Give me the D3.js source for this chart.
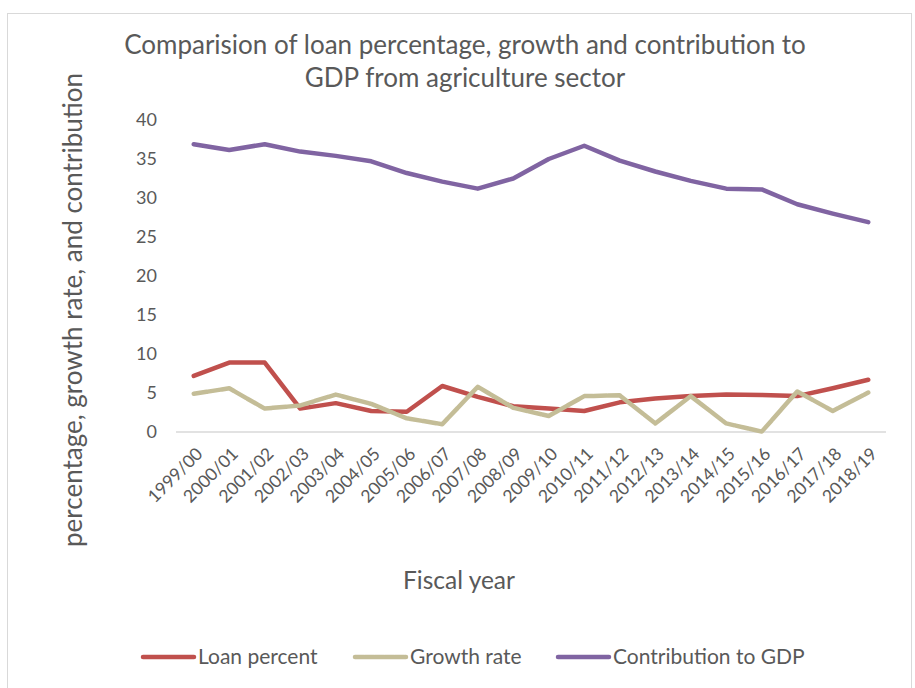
<!DOCTYPE html>
<html><head><meta charset="utf-8">
<script src="https://cdn.jsdelivr.net/npm/d3@7"></script>
<style>body{margin:0;background:#fff}svg{display:block}text{font-family:Lato,"Open Sans",sans-serif;fill:#595959}</style>
</head><body><svg id="c" width="915" height="688"></svg>
<script>
const years = ["1999/00","2000/01","2001/02","2002/03","2003/04","2004/05","2005/06","2006/07","2007/08","2008/09","2009/10","2010/11","2011/12","2012/13","2013/14","2014/15","2015/16","2016/17","2017/18","2018/19"];
const loanPercent = [7.2,8.9,8.9,3.0,3.7,2.7,2.6,5.9,4.5,3.3,3.0,2.7,3.8,4.3,4.6,4.8,4.75,4.6,5.6,6.7];
const growthRate = [4.9,5.6,3.0,3.4,4.8,3.6,1.75,1.0,5.8,3.1,2.05,4.6,4.7,1.1,4.6,1.1,0.05,5.2,2.7,5.05];
const contributionGDP = [36.9,36.15,36.9,35.95,35.4,34.7,33.2,32.1,31.2,32.5,35.0,36.7,34.8,33.4,32.2,31.2,31.1,29.2,28.0,26.9];
const yTicks = [0,5,10,15,20,25,30,35,40];
const seriesNames = ["Loan percent","Growth rate","Contribution to GDP"];

const svg = d3.select("#c");
svg.append("rect").attr("x",7.5).attr("y",13.5).attr("width",904).attr("height",690).attr("fill","none").attr("stroke","#d9d9d9");

const x = d3.scaleBand().domain(years).range([176,886]);
const y = d3.scaleLinear().domain([0,40]).range([432,120]);
const cx = d => x(d)+x.bandwidth()/2;

// y tick labels
svg.append("g").selectAll("text").data(yTicks).join("text")
  .attr("x",157).attr("y",d=>y(d)).attr("dy","0.35em").attr("text-anchor","end")
  .style("font-size","18px").text(d=>d);

// baseline
svg.append("line").attr("x1",176).attr("x2",886).attr("y1",y(0)).attr("y2",y(0)).attr("stroke","#d9d9d9").attr("stroke-width",1.5);

// x tick labels
svg.append("g").selectAll("text").data(years).join("text")
  .attr("transform",d=>`translate(${cx(d)+10},${455}) rotate(-45)`)
  .attr("text-anchor","end").style("font-size","17.5px").text(d=>d);

const colors = ["#C0504D","#C4BD97","#8064A2"];
const data = [loanPercent,growthRate,contributionGDP];
const line = d3.line().x((d,i)=>cx(years[i])).y(d=>y(d));
data.forEach((s,k)=>{
  svg.append("path").datum(s).attr("d",line).attr("fill","none").attr("stroke",colors[k])
    .attr("stroke-width",4.5).attr("stroke-linejoin","round").attr("stroke-linecap","round")
    .attr("stroke-dasharray",k===1?"13,1.2":null);
});

// title
const t = svg.append("text").attr("text-anchor","middle").style("font-size","26px");
t.append("tspan").attr("x",465).attr("y",54).text("Comparision of loan percentage, growth and contribution to");
t.append("tspan").attr("x",465).attr("y",87).text("GDP from agriculture sector");

// axis titles
svg.append("text").attr("transform","translate(82,310) rotate(-90)").attr("text-anchor","middle").style("font-size","26px").text("percentage, growth rate, and contribution");
svg.append("text").attr("x",459).attr("y",589).attr("text-anchor","middle").style("font-size","24.5px").text("Fiscal year");

// legend
const lx = [143,355,558];
seriesNames.forEach((n,k)=>{
  svg.append("line").attr("x1",lx[k]).attr("x2",lx[k]+51).attr("y1",657).attr("y2",657)
    .attr("stroke",colors[k]).attr("stroke-width",4.5).attr("stroke-linecap","round")
    .attr("stroke-dasharray",k===1?"9,1":null);
  svg.append("text").attr("x",lx[k]+55).attr("y",657).attr("dy","0.35em").style("font-size","21px").text(n);
});
</script></body></html>
